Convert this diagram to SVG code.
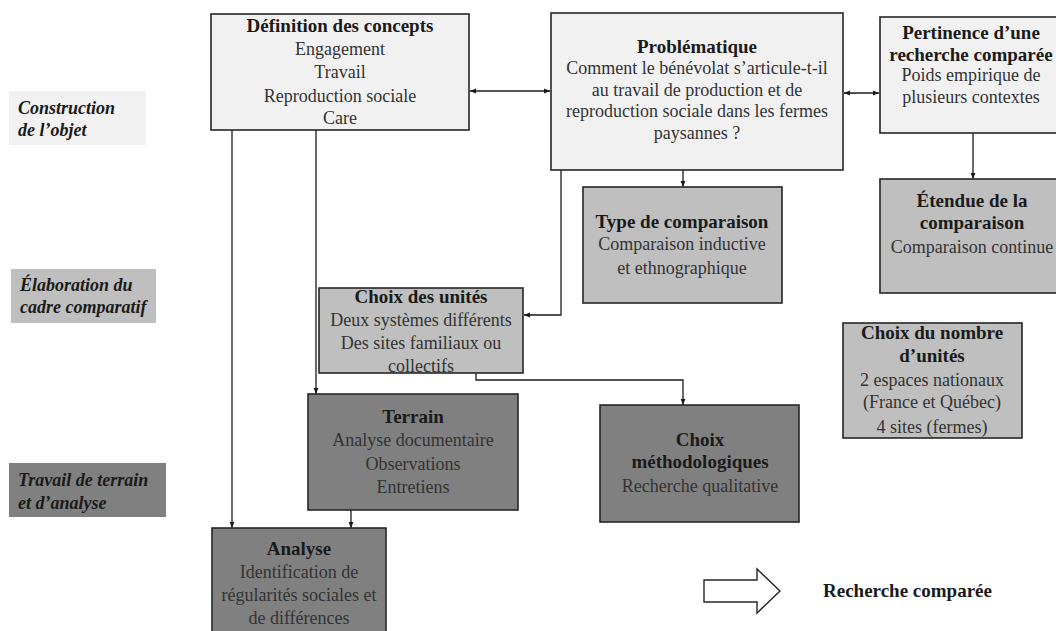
<svg xmlns="http://www.w3.org/2000/svg" width="1056" height="631" viewBox="0 0 1056 631">
<defs>
<marker id="ah" viewBox="0 0 10 10" refX="10" refY="5" markerWidth="6" markerHeight="6" orient="auto-start-reverse" markerUnits="userSpaceOnUse">
<path d="M0,1 L10,5 L0,9 z" fill="#1a1a1a"/>
</marker>
</defs>
<style>
.box{stroke:#262626;stroke-width:1.6}
.l1{fill:#f1f1f1}
.l2{fill:#bfbfbf}
.l3{fill:#808080}
text{font-family:"Liberation Serif",serif;font-size:18px;text-anchor:middle;fill:#333}
.t{font-weight:bold;font-size:19px;fill:#1a1a1a}
.lab{font-weight:bold;font-style:italic;font-size:18px;text-anchor:start;fill:#1a1a1a}
.c{fill:none;stroke:#1a1a1a;stroke-width:1.3}
</style>
<rect width="1056" height="631" fill="#ffffff"/>

<g id="label-construction">
<rect x="9" y="91" width="137" height="54" class="l1"/>
<text class="lab" x="18" y="114">Construction</text>
<text class="lab" x="18" y="136">de l’objet</text>
</g>
<g id="label-elaboration">
<rect x="11" y="269" width="145" height="54" class="l2"/>
<text class="lab" x="20" y="291">Élaboration du</text>
<text class="lab" x="20" y="313">cadre comparatif</text>
</g>
<g id="label-travail">
<rect x="9" y="463" width="157" height="54" class="l3"/>
<text class="lab" x="18" y="486">Travail de terrain</text>
<text class="lab" x="18" y="509">et d’analyse</text>
</g>

<g id="connectors">
<line class="c" x1="470" y1="91" x2="550" y2="91" marker-start="url(#ah)" marker-end="url(#ah)"/>
<line class="c" x1="844" y1="93" x2="879" y2="93" marker-start="url(#ah)" marker-end="url(#ah)"/>
<line class="c" x1="973" y1="133" x2="973" y2="179" marker-end="url(#ah)"/>
<line class="c" x1="683" y1="170" x2="683" y2="187" marker-end="url(#ah)"/>
<polyline class="c" points="561,170 561,315 524,315" marker-end="url(#ah)"/>
<line class="c" x1="232" y1="130" x2="232" y2="528" marker-end="url(#ah)"/>
<line class="c" x1="316" y1="130" x2="316" y2="394" marker-end="url(#ah)"/>
<polyline class="c" points="476,373 476,380 683,380 683,405" marker-end="url(#ah)"/>
<line class="c" x1="351" y1="510" x2="351" y2="528" marker-end="url(#ah)"/>
</g>

<g id="definition">
<rect x="211" y="14" width="258" height="116" class="box l1"/>
<text class="t" x="340" y="32">Définition des concepts</text>
<text x="340" y="55">Engagement</text>
<text x="340" y="78">Travail</text>
<text x="340" y="102">Reproduction sociale</text>
<text x="340" y="124">Care</text>
</g>

<g id="problematique">
<rect x="551" y="13" width="292" height="157" class="box l1"/>
<text class="t" x="697" y="53">Problématique</text>
<text x="697" y="74">Comment le bénévolat s’articule-t-il</text>
<text x="697" y="96">au travail de production et de</text>
<text x="697" y="117">reproduction sociale dans les fermes</text>
<text x="697" y="139">paysannes ?</text>
</g>

<g id="pertinence">
<rect x="880" y="17" width="186" height="116" class="box l1"/>
<text class="t" x="971" y="39">Pertinence d’une</text>
<text class="t" x="971" y="61">recherche comparée</text>
<text x="971" y="81">Poids empirique de</text>
<text x="971" y="103">plusieurs contextes</text>
</g>

<g id="type">
<rect x="583" y="187" width="199" height="116" class="box l2"/>
<text class="t" x="682" y="228">Type de comparaison</text>
<text x="682" y="250">Comparaison inductive</text>
<text x="682" y="274">et ethnographique</text>
</g>

<g id="etendue">
<rect x="880" y="179" width="186" height="114" class="box l2"/>
<text class="t" x="972" y="207">Étendue de la</text>
<text class="t" x="972" y="229">comparaison</text>
<text x="972" y="253">Comparaison continue</text>
</g>

<g id="unites">
<rect x="319" y="288" width="204" height="85" class="box l2"/>
<text class="t" x="421" y="303">Choix des unités</text>
<text x="421" y="326">Deux systèmes différents</text>
<text x="421" y="349">Des sites familiaux ou</text>
<text x="421" y="372">collectifs</text>
</g>

<g id="nombre">
<rect x="843" y="323" width="179" height="115" class="box l2"/>
<text class="t" x="932" y="339">Choix du nombre</text>
<text class="t" x="932" y="362">d’unités</text>
<text x="932" y="386">2 espaces nationaux</text>
<text x="932" y="408">(France et Québec)</text>
<text x="932" y="433">4 sites (fermes)</text>
</g>

<g id="terrain">
<rect x="308" y="394" width="210" height="116" class="box l3"/>
<text class="t" x="413" y="423">Terrain</text>
<text x="413" y="446" fill="#222">Analyse documentaire</text>
<text x="413" y="470" fill="#222">Observations</text>
<text x="413" y="493" fill="#222">Entretiens</text>
</g>

<g id="methodo">
<rect x="600" y="405" width="199" height="117" class="box l3"/>
<text class="t" x="700" y="446">Choix</text>
<text class="t" x="700" y="468">méthodologiques</text>
<text x="700" y="492" fill="#222">Recherche qualitative</text>
</g>

<g id="analyse">
<rect x="212" y="528" width="174" height="111" class="box l3"/>
<text class="t" x="299" y="555">Analyse</text>
<text x="299" y="578" fill="#222">Identification de</text>
<text x="299" y="601" fill="#222">régularités sociales et</text>
<text x="299" y="624" fill="#222">de différences</text>
</g>

<g id="legend">
<path d="M704,580 L757,580 L757,569 L780,591 L757,613 L757,602 L704,602 Z" fill="#ffffff" stroke="#262626" stroke-width="1.4"/>
<text class="t" x="823" y="597" style="text-anchor:start">Recherche comparée</text>
</g>
</svg>
